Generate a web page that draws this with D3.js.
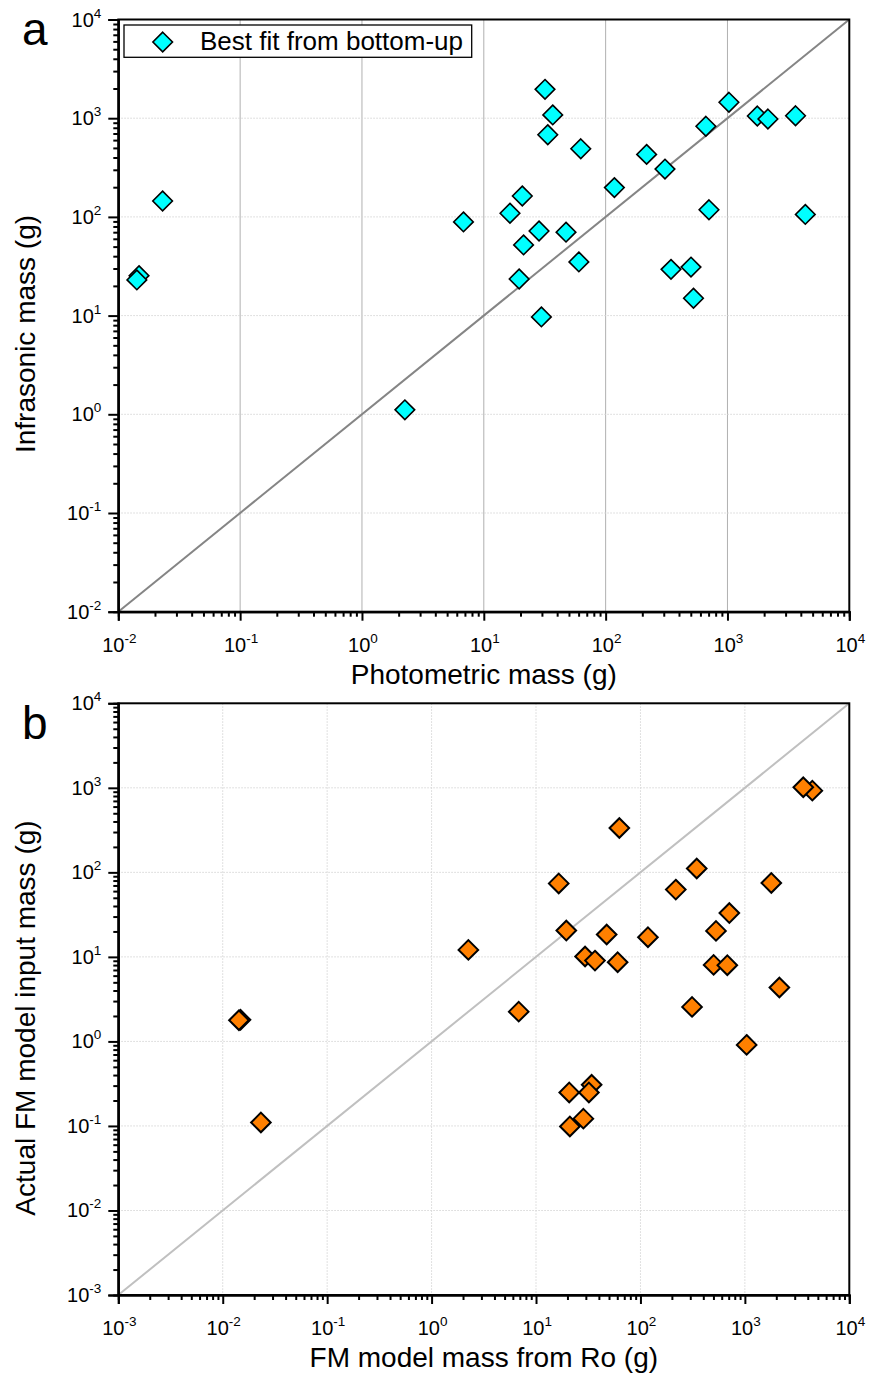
<!DOCTYPE html>
<html>
<head>
<meta charset="utf-8">
<script src="https://cdn.jsdelivr.net/npm/d3@7"></script>
<style>
  body { margin: 0; background: #fff; }
  svg { display: block; }
  text { font-family: "Liberation Sans", Arial, sans-serif; fill: #000; }
</style>
</head>
<body>
<svg id="chart" width="870" height="1375"></svg>
<script>
// Panel a: photometric mass vs. infrasonic (best fit from bottom-up) mass, grams
const photometricMass = [0.0231, 0.0148, 0.0142, 6.81, 31.8, 36.8, 33.5, 62.5, 217, 307,
  118, 20.7, 16.4, 28.4, 47.3, 21.2, 60.3, 19.5, 29.7, 665,
  1028, 1758, 2148, 3620, 705, 4355, 344, 502, 526, 2.25];
const infrasonicMass = [145, 25.4, 23, 89, 1960, 1080, 680, 490, 430, 305,
  198, 163, 109, 72, 70, 52, 35, 23.5, 9.7, 828,
  1450, 1052, 981, 1059, 118, 106, 29.4, 31, 15, 1.11];

// Panel b: FM model mass from Ro vs. actual FM model input mass, grams
const roModelMass = [2.25, 0.0148, 0.0143, 0.0232, 4426, 3624, 62.8, 346, 16.5, 1791,
  218, 710, 19.5, 529, 47.5, 118, 29.5, 36.7, 60.5, 502,
  679, 2140, 312, 6.83, 1040, 20.8, 34.1, 32.1, 28.4, 21.1];
const fmInputMass = [12.1, 1.8, 1.78, 0.11, 926, 1016, 335, 111, 74, 75,
  62.5, 33, 20.5, 20.3, 18.4, 17.1, 10.1, 9.04, 8.65, 8.04,
  7.98, 4.34, 2.56, 2.25, 0.91, 0.249, 0.307, 0.249, 0.122, 0.0986];

// Decade exponents used for ticks and tick labels
const panelAExponents = [-2, -1, 0, 1, 2, 3, 4];
const panelBExponents = [-3, -2, -1, 0, 1, 2, 3, 4];

const svg = d3.select("#chart");

function diamondPath(r) {
  return `M0,${-r}L${r},0L0,${r}L${-r},0Z`;
}

function minorValues(exps) {
  const out = [];
  for (let i = 0; i < exps.length - 1; i++) {
    for (let k = 2; k <= 9; k++) out.push(k * Math.pow(10, exps[i]));
  }
  return out;
}

function drawPanel(cfg) {
  const { left, right, top, bottom, exps } = cfg;
  const lo = Math.pow(10, exps[0]), hi = Math.pow(10, exps[exps.length - 1]);
  const x = d3.scaleLog().domain([lo, hi]).range([left, right]);
  const y = d3.scaleLog().domain([lo, hi]).range([bottom, top]);
  const g = svg.append("g");
  const inner = exps.slice(1, -1).map(e => Math.pow(10, e));

  // grid lines at decades
  g.append("g").selectAll("line").data(inner).join("line")
    .attr("x1", d => x(d)).attr("x2", d => x(d))
    .attr("y1", top).attr("y2", bottom)
    .attr("stroke", cfg.vGridColor).attr("stroke-width", 1)
    .attr("stroke-dasharray", cfg.vGridDash);
  g.append("g").selectAll("line").data(inner).join("line")
    .attr("y1", d => y(d)).attr("y2", d => y(d))
    .attr("x1", left).attr("x2", right)
    .attr("stroke", cfg.hGridColor).attr("stroke-width", 1)
    .attr("stroke-dasharray", "1.5,1.5");

  // 1:1 line
  g.append("path")
    .datum([lo, hi])
    .attr("d", d3.line().x(d => x(d)).y(d => y(d)))
    .attr("stroke", cfg.diagColor).attr("stroke-width", 2).attr("fill", "none");

  // markers
  const pts = cfg.xs.map((v, i) => [v, cfg.ys[i]]);
  g.append("g").selectAll("path").data(pts).join("path")
    .attr("d", diamondPath(9.8))
    .attr("transform", d => `translate(${x(d[0])},${y(d[1])})`)
    .attr("fill", cfg.fill).attr("stroke", "#000").attr("stroke-width", cfg.markerStroke)
    .attr("stroke-linejoin", "miter");

  // frame
  g.append("rect").attr("x", left).attr("y", top)
    .attr("width", right - left).attr("height", bottom - top)
    .attr("fill", "none").attr("stroke", "#000").attr("stroke-width", 2);

  // axes with outward ticks
  const majors = exps.map(e => Math.pow(10, e));
  const minors = minorValues(exps);
  const xMaj = g.append("g").attr("transform", `translate(0,${bottom})`)
    .call(d3.axisBottom(x).tickValues(majors).tickSize(9).tickFormat(""));
  const xMin = g.append("g").attr("transform", `translate(0,${bottom})`)
    .call(d3.axisBottom(x).tickValues(minors).tickSize(5).tickFormat(""));
  const yMaj = g.append("g").attr("transform", `translate(${left},0)`)
    .call(d3.axisLeft(y).tickValues(majors).tickSize(10).tickFormat(""));
  const yMin = g.append("g").attr("transform", `translate(${left},0)`)
    .call(d3.axisLeft(y).tickValues(minors).tickSize(5).tickFormat(""));
  [xMaj, xMin, yMaj, yMin].forEach(a => {
    a.select(".domain").attr("stroke", "#000").attr("stroke-width", 2);
    a.selectAll(".tick line").attr("stroke", "#000").attr("stroke-width", 2);
  });

  // decade labels: 10 with superscript exponent
  const xl = g.append("g").selectAll("text").data(exps).join("text")
    .attr("x", e => x(Math.pow(10, e)) + 1)
    .attr("y", bottom + 40)
    .attr("text-anchor", "middle")
    .style("font-size", "20px");
  xl.append("tspan").text("10");
  xl.append("tspan").attr("dy", -9).style("font-size", "13.5px").text(e => e < 0 ? "-" + (-e) : String(e));

  const yl = g.append("g").selectAll("text").data(exps).join("text")
    .attr("x", left - 17)
    .attr("y", e => y(Math.pow(10, e)) + 7)
    .attr("text-anchor", "end")
    .style("font-size", "20px");
  yl.append("tspan").text("10");
  yl.append("tspan").attr("dy", -9).style("font-size", "13.5px").text(e => e < 0 ? "-" + (-e) : String(e));

  // axis titles
  g.append("text").attr("x", (left + right) / 2).attr("y", bottom + 72)
    .attr("text-anchor", "middle").style("font-size", "28px").text(cfg.xTitle);
  g.append("text")
    .attr("transform", `translate(35,${cfg.yTitleCenter}) rotate(-90)`)
    .attr("text-anchor", "middle").style("font-size", "28px").text(cfg.yTitle);

  // panel letter
  g.append("text").attr("x", 22).attr("y", cfg.letterBaseline)
    .style("font-size", "46px").text(cfg.letter);

  return { g, x, y };
}

const panelA = drawPanel({
  left: 118.3, right: 849.3, top: 19.5, bottom: 611.7, exps: panelAExponents,
  xs: photometricMass, ys: infrasonicMass, fill: "#00FFFF", markerStroke: 1.6,
  vGridColor: "#b0b0b0", vGridDash: null, hGridColor: "#d6d6d6",
  diagColor: "#858585",
  xTitle: "Photometric mass (g)", yTitle: "Infrasonic mass (g)", yTitleCenter: 334,
  letter: "a", letterBaseline: 45
});

drawPanel({
  left: 118.3, right: 849.3, top: 703.3, bottom: 1295, exps: panelBExponents,
  xs: roModelMass, ys: fmInputMass, fill: "#FF8000", markerStroke: 2,
  vGridColor: "#d6d6d6", vGridDash: "1.5,1.5", hGridColor: "#d6d6d6",
  diagColor: "#c0c0c0",
  xTitle: "FM model mass from Ro (g)", yTitle: "Actual FM model input mass (g)", yTitleCenter: 1018,
  letter: "b", letterBaseline: 739
});

// legend for panel a
const legend = panelA.g.append("g");
legend.append("rect").attr("x", 124).attr("y", 25).attr("width", 347.7).attr("height", 32.3)
  .attr("fill", "#fff").attr("stroke", "#000").attr("stroke-width", 1.3);
legend.append("path").attr("d", diamondPath(9.8))
  .attr("transform", "translate(162.7,42)")
  .attr("fill", "#00FFFF").attr("stroke", "#000").attr("stroke-width", 1.6);
legend.append("text").attr("x", 200).attr("y", 50).style("font-size", "26px")
  .text("Best fit from bottom-up");
</script>
</body>
</html>
